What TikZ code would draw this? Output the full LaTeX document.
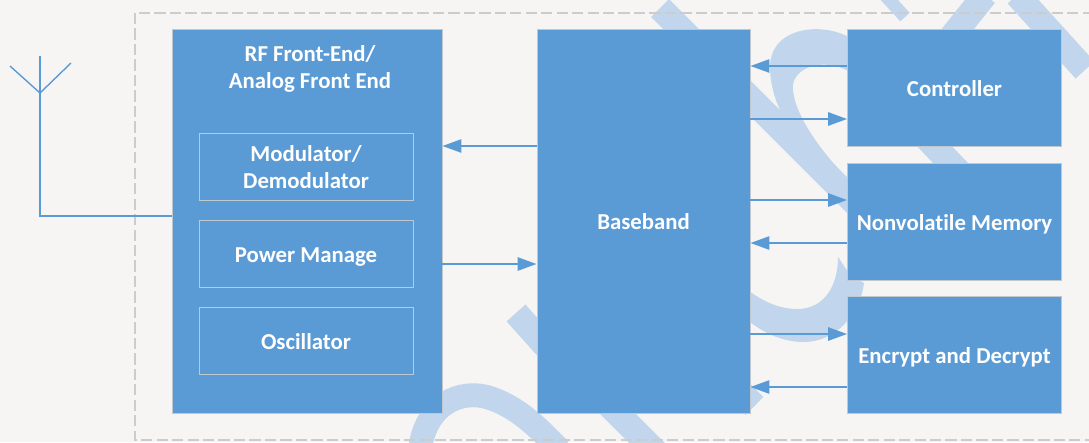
\documentclass[tikz,border=0pt]{standalone}
\usepackage{fontspec}
\setmainfont[Ligatures=NoCommon]{Carlito}
\usetikzlibrary{arrows.meta}
\definecolor{blockblue}{HTML}{5B9BD5}
\definecolor{markblue}{HTML}{C1D5EC}
\definecolor{paper}{HTML}{F6F5F3}
\definecolor{edgegrey}{HTML}{BFC7CF}
\tikzset{
	blocktext/.style={text=white, inner sep=0pt, align=center,
		font=\fontsize{16.2}{19.2}\selectfont\bfseries},
	block/.style={blocktext, draw=edgegrey, line width=0.6pt, fill=blockblue, text height=16.6pt, text depth=4pt},
	sublock/.style={block, minimum width=5.35cm, minimum height=1.675cm},
	sideblock/.style={block, minimum width=5.35cm, minimum height=2.925cm},
	sigline/.style={draw=blockblue, line width=1.2pt, -{Triangle[length=13.5pt,width=9.5pt]}},
	antline/.style={draw=blockblue, line width=1pt},
	markstroke/.style={draw=markblue, line width=18pt}
}

\begin{document}
\begin{tikzpicture}[x=0.025cm, y=-0.025cm]
	\useasboundingbox (0, 0) rectangle (1089, 442);
	\fill[paper] (0, 0) rectangle (1089, 442);

	%%%%% watermark %%%%%
	\begin{scope}
		\clip (0, 0) rectangle (1089, 442);
		\draw[markstroke] (660, 8) -- (860, 208);
		\draw[markstroke] (900, 110) -- (1000, 215);
		\draw[markstroke] (1017, -5) -- (1085, 70);
		\draw[markstroke] (985, -5) -- (945, 45);
		\draw[markstroke, line width=9pt] (880, -10) -- (905, 17);
		\fill[markblue] (850, 38) .. controls (825, 22) and (768, 25) .. (770, 70) .. controls (771, 85) and (774, 97) .. (780, 110)
			-- (800, 160) -- (846, 177) .. controls (820, 150) and (795, 115) .. (793, 90) .. controls (790, 70) and (820, 55) .. (850, 72) -- cycle;
		\fill[markblue] (838, 257) .. controls (838, 285) and (825, 309) .. (797, 309) .. controls (780, 309) and (763, 302) .. (745, 288)
			-- (745, 318) .. controls (765, 335) and (785, 342) .. (804, 342) .. controls (835, 342) and (860, 315) .. (864, 283) -- (850, 275) -- cycle;
		\draw[markstroke] (516, 313) -- (560, 362);
		\draw[markstroke, line width=17pt] (420, 450) .. controls (425, 405) and (460, 388) .. (490, 398) .. controls (520, 408) and (540, 430) .. (560, 450);
		\draw[markstroke] (600, 396) -- (660, 456);
		\draw[markstroke] (700, 352) -- (754.5, 406);
	\end{scope}

	%%%%% boundary %%%%%
	\draw[black!20, line width=1pt, dash pattern=on 8pt off 3pt] (135, 13) rectangle (1100, 440);

	%%%%% blocks %%%%%
	\node[block, minimum width=6.75cm, minimum height=9.6cm] (rf) at (307, 221) {};
	\node[blocktext] (rftitle) at (310, 68.5) {RF Front-End/\\Analog Front End};
	\node[sublock, text height=34.4pt, text depth=3pt] (modem) at (306, 166.5) {Modulator/\\Demodulator};
	\node[sublock] (power) at (306, 253.5) {Power Manage};
	\node[sublock] (osc) at (306, 340.5) {Oscillator};

	\node[block, minimum width=5.325cm, minimum height=9.6cm] (bb) at (643.5, 221) {Baseband};

	\node[sideblock] (ctrl) at (954.5, 87.5) {Controller};
	\node[sideblock] (nvm) at (954.5, 221.5) {Nonvolatile Memory};
	\node[sideblock] (crypt) at (954.5, 355) {Encrypt and Decrypt};

	%%%%% antenna %%%%%
	\coordinate (antfoot) at (40, 216);
	\coordinate (antneck) at (40, 93);
	\coordinate (anttop) at (40, 56);
	\coordinate (antleft) at (10, 66);
	\coordinate (antright) at (71, 63);
	\draw[antline] (rf.west |- antfoot) -- (antfoot) -- (anttop);
	\draw[antline] (antleft) -- (antneck) -- (antright);

	%%%%% signals %%%%%
	\draw[sigline] (bb.west |- 0,146) -- (rf.east |- 0,146);
	\draw[sigline] (rf.east |- 0,264) -- (bb.west |- 0,264);

	\draw[sigline] (ctrl.west |- 0,66) -- (bb.east |- 0,66);
	\draw[sigline] (bb.east |- 0,119) -- (ctrl.west |- 0,119);
	\draw[sigline] (bb.east |- 0,200) -- (nvm.west |- 0,200);
	\draw[sigline] (nvm.west |- 0,243) -- (bb.east |- 0,243);
	\draw[sigline] (bb.east |- 0,334) -- (crypt.west |- 0,334);
	\draw[sigline] (crypt.west |- 0,387) -- (bb.east |- 0,387);
\end{tikzpicture}
\end{document}
